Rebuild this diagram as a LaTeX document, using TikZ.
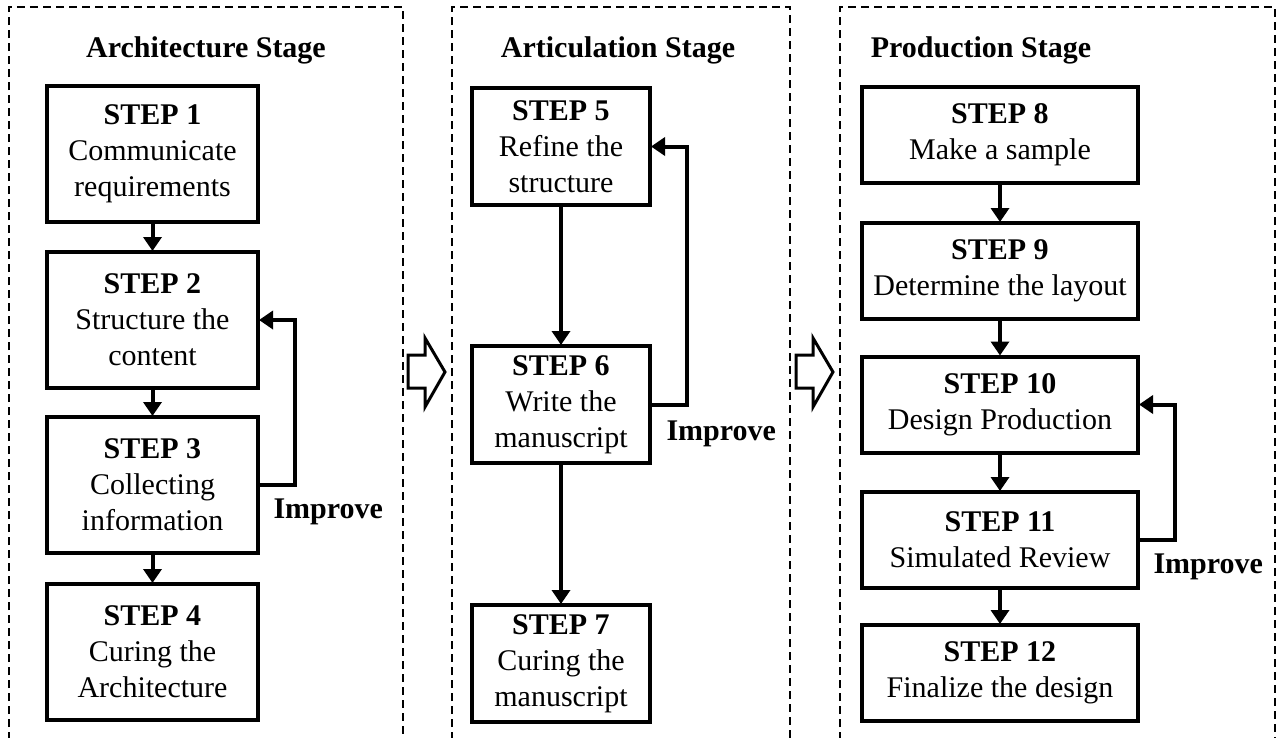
\documentclass[tikz,border=0pt]{standalone}
\usepackage{fontspec}
\setmainfont{Liberation Serif}
\usetikzlibrary{arrows.meta}
\tikzset{
  panel/.style={line width=2pt, dash pattern=on 8pt off 5pt},
  stepbox/.style={draw, line width=4pt, align=center, inner sep=0pt, fill=white,
    font=\fontsize{30}{36}\selectfont},
  title/.style={anchor=base, font=\fontsize{30}{36}\selectfont\bfseries},
  improve/.style={anchor=base west, font=\fontsize{30}{36}\selectfont\bfseries},
  flow/.style={line width=4pt, -{Triangle[width=18pt,length=14pt]}, shorten >=-1pt},
  hollow/.style={line width=3pt, line join=miter, fill=white},
}
\begin{document}
\begin{tikzpicture}[x=1pt,y=-1pt]
\useasboundingbox (0,0) rectangle (1279,737);
% panels
\draw[panel] (9,740) -- (9,7) -- (403,7) -- (403,740);
\draw[panel] (452,740) -- (452,7) -- (790,7) -- (790,740);
\draw[panel] (840,740) -- (840,7) -- (1275,7) -- (1275,740);
% titles
\node[title] (t1) at (206,57) {Architecture Stage};
\node[title] (t2) at (618,57) {Articulation Stage};
\node[title] (t3) at (981,57) {Production Stage};
% panel 1
\begin{scope}[every node/.style={stepbox, minimum width=211pt, minimum height=136pt}]
\node (b1) at (152.5,154) {\textbf{STEP 1}\\Communicate\\requirements};
\node (b2) at (152.5,320) {\textbf{STEP 2}\\Structure the\\content};
\node (b3) at (152.5,485) {\textbf{STEP 3}\\Collecting\\information};
\node (b4) at (152.5,652) {\textbf{STEP 4}\\Curing the\\Architecture};
\end{scope}
% panel 2
\begin{scope}[every node/.style={stepbox, minimum width=178pt, minimum height=117pt}]
\node (b5) at (561,146.5) {\textbf{STEP 5}\\Refine the\\structure};
\node (b6) at (561,404.5) {\textbf{STEP 6}\\Write the\\manuscript};
\node (b7) at (561,663.5) {\textbf{STEP 7}\\Curing the\\manuscript};
\end{scope}
% panel 3
\begin{scope}[every node/.style={stepbox, minimum width=276pt, minimum height=96pt}]
\node (b8) at (1000,135) {\textbf{STEP 8}\\Make a sample};
\node (b9) at (1000,271) {\textbf{STEP 9}\\Determine the layout};
\node (b10) at (1000,404.5) {\textbf{STEP 10}\\Design Production};
\node (b11) at (1000,540) {\textbf{STEP 11}\\Simulated Review};
\node (b12) at (1000,673) {\textbf{STEP 12}\\Finalize the design};
\end{scope}
% flows
\draw[flow] (b1) -- (b2);
\draw[flow] (b2) -- (b3);
\draw[flow] (b3) -- (b4);
\draw[flow] (b5) -- (b6);
\draw[flow] (b6) -- (b7);
\draw[flow] (b8) -- (b9);
\draw[flow] (b9) -- (b10);
\draw[flow] (b10) -- (b11);
\draw[flow] (b11) -- (b12);
% feedback loops
\draw[flow] (b3.east) -- ++(35,0) |- (b2.east);
\draw[flow] (b6.east) -- ++(35,0) |- (b5.east);
\draw[flow] (b11.east) -- ++(35,0) |- (b10.east);
\node[improve] (i1) at (270,518) {Improve};
\node[improve] (i2) at (663,440) {Improve};
\node[improve] (i3) at (1150,573) {Improve};
% hollow arrows between stages
\draw[hollow] (408,355) -- (425,355) -- (425,338) -- (445,372) -- (425,407) -- (425,388) -- (408,388) -- cycle;
\draw[hollow] (796,355) -- (813,355) -- (813,338) -- (833,372) -- (813,407) -- (813,388) -- (796,388) -- cycle;
\end{tikzpicture}
\end{document}
